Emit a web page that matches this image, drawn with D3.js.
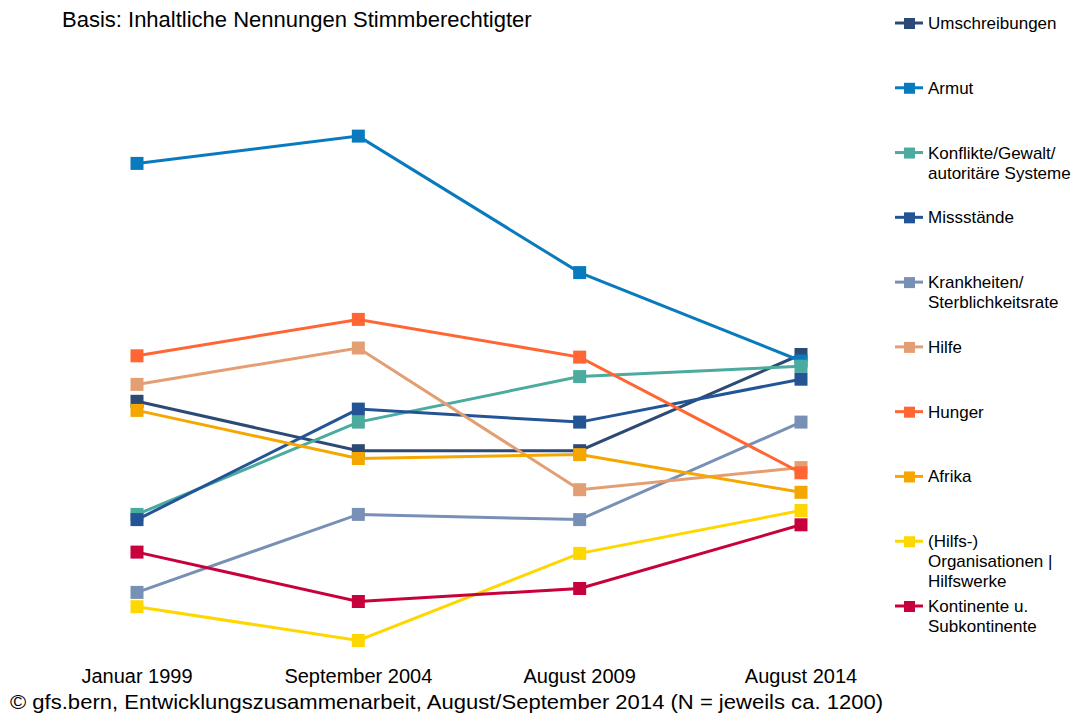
<!DOCTYPE html>
<html>
<head>
<meta charset="utf-8">
<script src="https://cdn.jsdelivr.net/npm/d3@7"></script>
<style>
  body { margin: 0; background: #fff; }
  text { font-family: "Liberation Sans", Arial, sans-serif; fill: #000; }
</style>
</head>
<body>
<div id="chart"></div>
<script>
// Survey waves (x categories)
const waves = ["Januar 1999", "September 2004", "August 2009", "August 2014"];

// Series names (legend order) – multi-line labels split by "\n"
const seriesNames = [
  "Umschreibungen",
  "Armut",
  "Konflikte/Gewalt/\nautoritäre Systeme",
  "Missstände",
  "Krankheiten/\nSterblichkeitsrate",
  "Hilfe",
  "Hunger",
  "Afrika",
  "(Hilfs-)\nOrganisationen |\nHilfswerke",
  "Kontinente u.\nSubkontinente"
];

const seriesColors = [
  "#2c4a74", "#0a7abf", "#4aab9e", "#235596", "#7890b5",
  "#e39f73", "#ff6633", "#f5a700", "#ffd700", "#c8003c"
];

// Values per wave (share of mentions)
const umschreibungen = [19.9, 16.1, 16.1, 23.5];
const armut          = [38.2, 40.3, 29.8, 23.0];
const konflikte      = [11.2, 18.3, 21.8, 22.6];
const missstaende    = [10.8, 19.3, 18.3, 21.6];
const krankheiten    = [5.2, 11.2, 10.8, 18.3];
const hilfe          = [21.2, 24.0, 13.1, 14.8];
const hunger         = [23.4, 26.2, 23.3, 14.4];
const afrika         = [19.2, 15.5, 15.8, 12.9];
const hilfswerke     = [4.1, 1.5, 8.2, 11.5];
const kontinente     = [8.3, 4.5, 5.5, 10.4];

const seriesValues = [umschreibungen, armut, konflikte, missstaende, krankheiten,
                      hilfe, hunger, afrika, hilfswerke, kontinente];

const series = seriesNames.map((name, i) => ({
  name, color: seriesColors[i], values: seriesValues[i]
}));

const W = 1075, H = 713;

const svg = d3.select("#chart").append("svg")
  .attr("width", W).attr("height", H);

const x = d3.scalePoint().domain(waves).range([137, 801]);
const y = d3.scaleLinear().domain([0, 40]).range([660, 140]);

// title
svg.append("text")
  .attr("x", 62).attr("y", 27)
  .style("font-size", "22px")
  .text("Basis: Inhaltliche Nennungen Stimmberechtigter");

// x labels (no axis line)
svg.append("g").selectAll("text")
  .data(waves)
  .join("text")
    .attr("x", d => x(d))
    .attr("y", 683)
    .attr("text-anchor", "middle")
    .style("font-size", "20px")
    .text(d => d);

// footnote
svg.append("text")
  .attr("x", 10).attr("y", 709)
  .style("font-size", "21px")
  .attr("textLength", 873)
  .attr("lengthAdjust", "spacingAndGlyphs")
  .text("© gfs.bern, Entwicklungszusammenarbeit, August/September 2014 (N = jeweils ca. 1200)");

const line = d3.line()
  .x((d, i) => x(waves[i]))
  .y(d => y(d));

const gSeries = svg.append("g").selectAll("g")
  .data(series)
  .join("g");

gSeries.append("path")
  .attr("d", d => line(d.values))
  .attr("fill", "none")
  .attr("stroke", d => d.color)
  .attr("stroke-width", 3);

const mk = 13;
gSeries.selectAll("rect")
  .data(d => d.values.map((v, i) => ({ v, i, color: d.color })))
  .join("rect")
    .attr("x", d => x(waves[d.i]) - mk / 2)
    .attr("y", d => y(d.v) - mk / 2)
    .attr("width", mk).attr("height", mk)
    .attr("fill", d => d.color);

// legend
const legendY = d3.scalePoint().domain(seriesNames).range([23, 606]);
const legend = svg.append("g").selectAll("g")
  .data(series)
  .join("g")
    .attr("transform", d => `translate(0,${legendY(d.name)})`);

legend.append("line")
  .attr("x1", 895).attr("x2", 923)
  .attr("stroke", d => d.color)
  .attr("stroke-width", 3);

legend.append("rect")
  .attr("x", 904).attr("y", -5)
  .attr("width", 11).attr("height", 11)
  .attr("fill", d => d.color);

legend.append("text")
  .attr("x", 928)
  .attr("y", 6)
  .style("font-size", "17px")
  .selectAll("tspan")
  .data(d => d.name.split("\n"))
  .join("tspan")
    .attr("x", 928)
    .attr("dy", (d, i) => i === 0 ? 0 : 20)
    .text(d => d);
</script>
</body>
</html>
